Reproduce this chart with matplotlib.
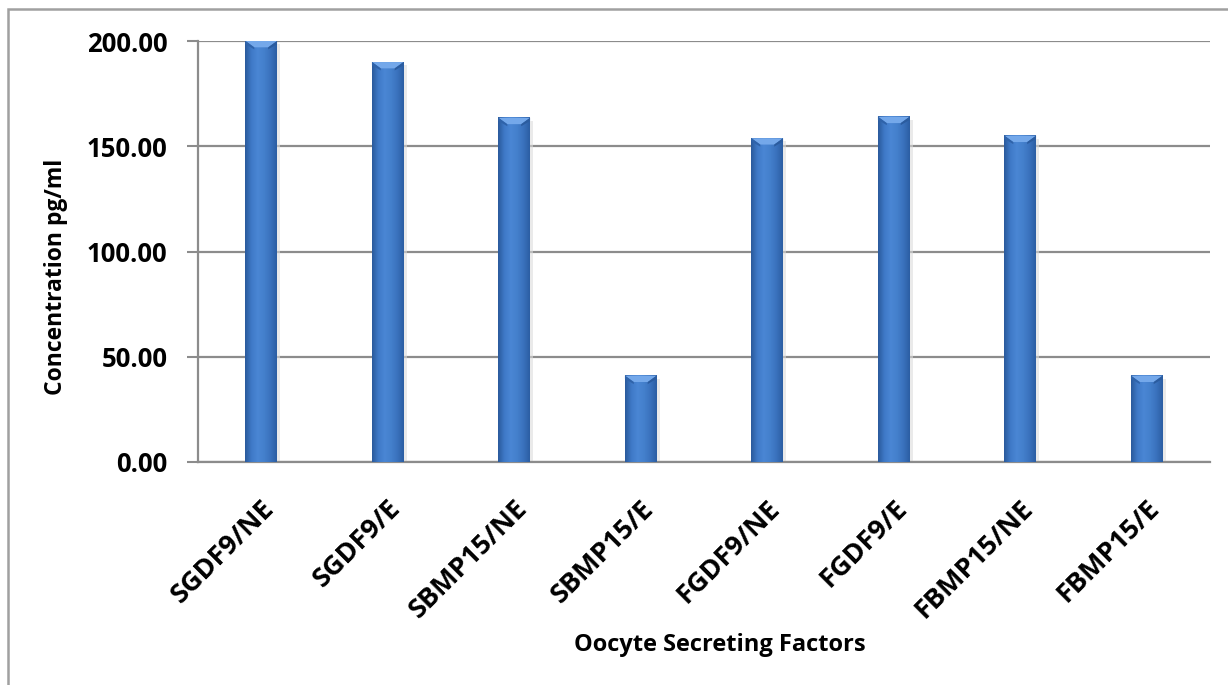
import numpy as np
import matplotlib
matplotlib.use("Agg")
import matplotlib.pyplot as plt
from matplotlib.colors import LinearSegmentedColormap
from matplotlib.patches import Polygon, Rectangle

categories = ["SGDF9/NE", "SGDF9/E", "SBMP15/NE", "SBMP15/E",
              "FGDF9/NE", "FGDF9/E", "FBMP15/NE", "FBMP15/E"]
concentration = [200.0, 190.0, 163.5, 41.0, 153.8, 164.0, 155.0, 41.0]
y_ticks = [0, 50, 100, 150, 200]
y_label = "Concentration pg/ml"
x_label = "Oocyte Secreting Factors"

plt.rcParams["font.family"] = ["Open Sans", "DejaVu Sans"]
plt.rcParams["font.weight"] = "bold"

fig = plt.figure(figsize=(12.28, 6.85), dpi=100)
ax = fig.add_axes([198 / 1228, 1 - 462 / 685, (1210 - 198) / 1228, (462 - 41) / 685])

grid_col = "#8c8c8c"
x = np.arange(len(categories))
bw = 0.25

bars = ax.bar(x, concentration, width=bw, color="#3b74c0", zorder=3)

# cylinder-like horizontal shading for each bar
shade = LinearSegmentedColormap.from_list(
    "shade", ["#2a5a9c", "#3f7ac8", "#4a86d4", "#4480cc", "#3a72bd", "#2c5ea3"])
grad = np.linspace(0, 1, 64).reshape(1, -1)
for rect in bars:
    x0 = rect.get_x()
    h = rect.get_height()
    w = rect.get_width()
    # soft shadow on the right side
    ax.add_patch(Rectangle((x0 + w, 0), 0.025, h - 1.5, color="#dcdcdc",
                           alpha=0.6, lw=0, zorder=2))
    ax.imshow(grad, cmap=shade, extent=[x0, x0 + w, 0, h], aspect="auto",
              interpolation="bicubic", zorder=3.5)
    # bevelled highlight at the top of the bar
    d = 3.0
    inset = 0.07
    ax.add_patch(Polygon([[x0, h], [x0 + w, h], [x0 + w - inset, h - d],
                          [x0 + inset, h - d]], closed=True,
                         facecolor="#74a8ea", edgecolor="none", zorder=4))
    ax.add_patch(Polygon([[x0, h], [x0 + inset, h - d], [x0 + inset, h - d - 1.0],
                          [x0, h - 1.5]], closed=True,
                         facecolor="#2f63aa", edgecolor="none", zorder=4))
    ax.add_patch(Polygon([[x0 + w, h], [x0 + w - inset, h - d],
                          [x0 + w - inset, h - d - 1.0], [x0 + w, h - 1.5]],
                         closed=True, facecolor="#2b5c9f", edgecolor="none", zorder=4))

ax.set_xlim(-0.5, len(categories) - 0.5)
ax.set_ylim(0, 200)
ax.set_yticks(y_ticks)
ax.set_yticklabels([f"{v:.2f}" for v in y_ticks], fontsize=18.5, fontweight="bold")
ax.set_xticks(x)
ax.set_xticklabels(categories, rotation=45, ha="right", rotation_mode="anchor",
                   fontsize=19.5, fontweight="bold")
ax.tick_params(axis="x", length=0, pad=24)
ax.tick_params(axis="y", length=8, width=1.5, color=grid_col, pad=14)

ax.yaxis.grid(True, color=grid_col, linewidth=1.6, zorder=1)
ax.set_axisbelow(True)
for side in ["top", "right"]:
    ax.spines[side].set_visible(False)
ax.spines["left"].set_color(grid_col)
ax.spines["left"].set_linewidth(1.6)
ax.spines["bottom"].set_color(grid_col)
ax.spines["bottom"].set_linewidth(1.6)

ax.set_ylabel(y_label, fontsize=16.5, fontweight="bold")
ax.set_xlabel(x_label, fontsize=17, fontweight="bold")
ax.yaxis.set_label_coords(-0.128, 0.44)
ax.xaxis.set_label_coords(0.516, -0.406)

# outer chart frame
fig.patches.append(Rectangle((8 / 1228, -0.2), 1.2, 1 - 9 / 685 + 0.2,
                             transform=fig.transFigure, fill=False,
                             edgecolor="#a0a0a0", linewidth=1.8))

fig.savefig("out.png", dpi=100)
